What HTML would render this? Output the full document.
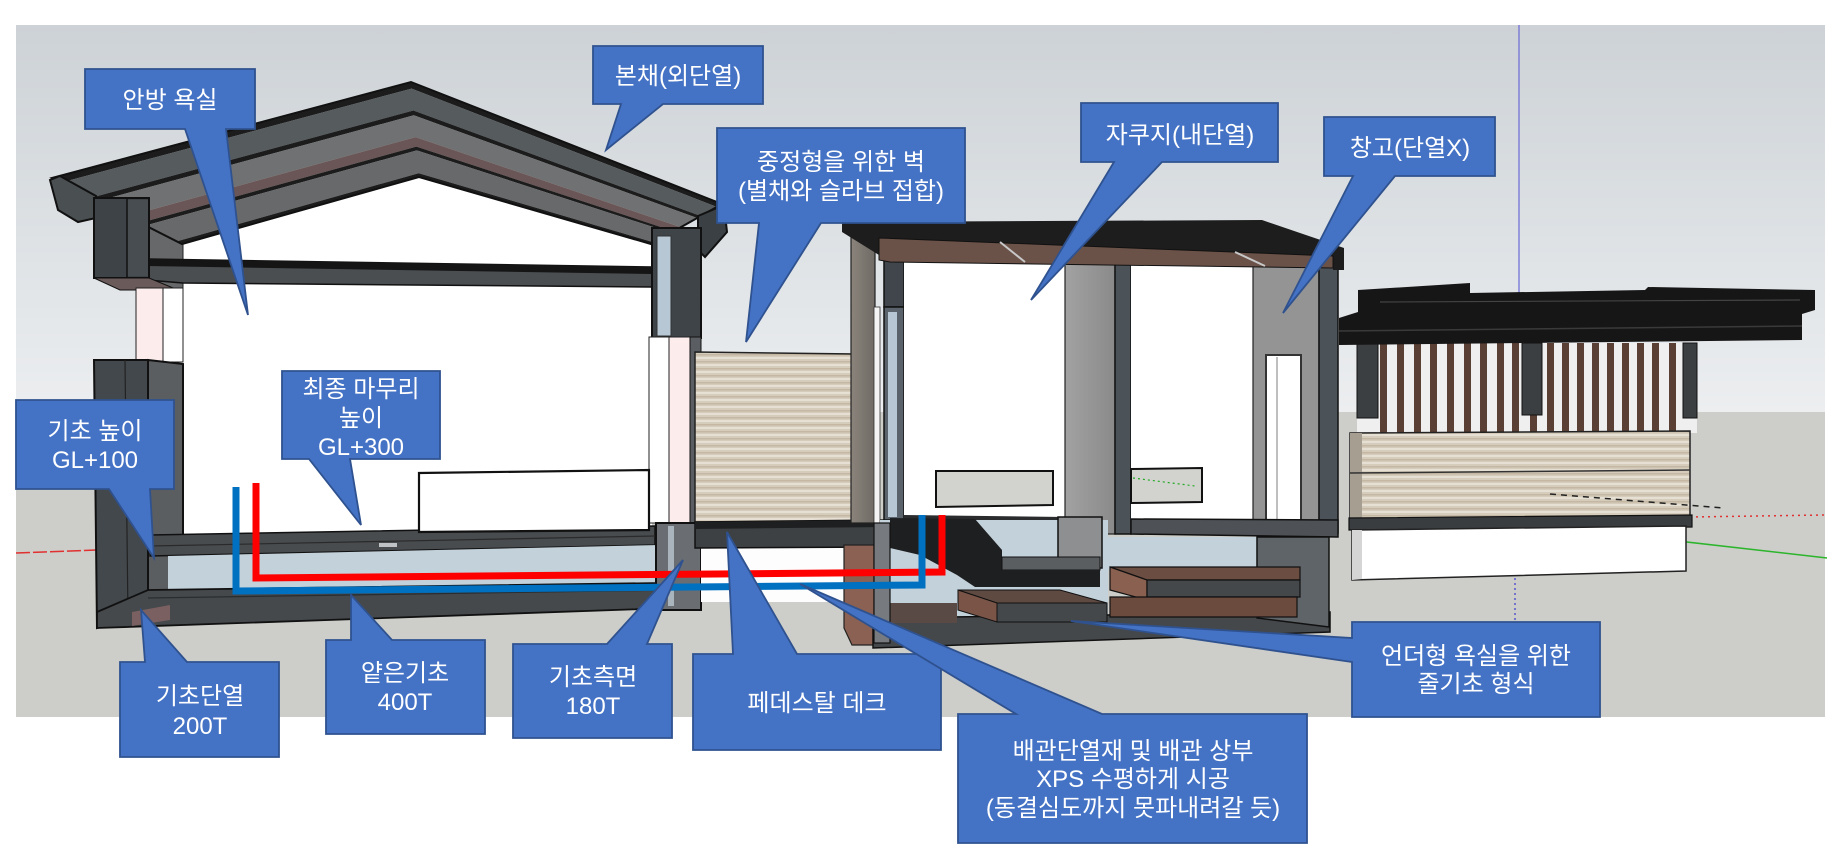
<!DOCTYPE html>
<html><head><meta charset="utf-8">
<style>
html,body{margin:0;padding:0;background:#fff;}
svg{display:block;}
text{font-family:"Liberation Sans","Noto Sans CJK KR",sans-serif;font-size:24px;fill:#fff;text-anchor:middle;}
</style></head><body>
<svg width="1833" height="850" viewBox="0 0 1833 850" xmlns="http://www.w3.org/2000/svg">
<defs>
<linearGradient id="sky" x1="0" y1="0" x2="0" y2="1">
 <stop offset="0" stop-color="#cdd2d6"/>
 <stop offset="0.6" stop-color="#dfe3e6"/>
 <stop offset="1" stop-color="#eceef0"/>
</linearGradient>
<linearGradient id="wallw" x1="0" y1="0" x2="1" y2="0">
 <stop offset="0" stop-color="#8a847c"/><stop offset="1" stop-color="#6f6a64"/>
</linearGradient>
<linearGradient id="part" x1="0" y1="0" x2="1" y2="0">
 <stop offset="0" stop-color="#a2a2a2"/><stop offset="1" stop-color="#8a8a8a"/>
</linearGradient>
<pattern id="wood" width="40" height="7" patternUnits="userSpaceOnUse">
 <rect width="40" height="7" fill="#d6ccbb"/>
 <rect y="0" width="40" height="2" fill="#e6dfd3"/>
 <rect y="4" width="40" height="1.5" fill="#c4b8a4"/>
</pattern>
</defs>

<!-- background -->
<rect x="16" y="25" width="1809" height="388" fill="url(#sky)"/>
<rect x="16" y="412" width="1809" height="305" fill="#cdcdc9"/>

<!-- axis lines -->
<line x1="1519" y1="25" x2="1519" y2="293" stroke="#6a6ad6" stroke-width="1.2"/>
<line x1="16" y1="553" x2="96" y2="550" stroke="#e03030" stroke-width="1.5" stroke-dasharray="14,3"/>
<line x1="1690" y1="517" x2="1825" y2="515" stroke="#e03030" stroke-width="1.5" stroke-dasharray="2,4"/>
<line x1="1555" y1="527" x2="1827" y2="558" stroke="#2bb52b" stroke-width="1.5"/>
<line x1="1515" y1="578" x2="1515" y2="620" stroke="#3a3ad0" stroke-width="1.2" stroke-dasharray="2,3"/>

<!-- ===== LEFT HOUSE ===== -->
<polygon points="147,250 419,177 652,244 652,530 150,535" fill="#fff"/>
<polygon points="148,226 183,244 183,292 148,282" fill="#666869" stroke="#222" stroke-width="1"/>

<!-- roof bands -->
<polygon points="52,178 411,82 722,204 717,207 411.6,88.6 61,182.6" fill="#1c1c1c"/>
<polygon points="61,182.6 411.6,88.6 717,207 700.7,216 413.4,110.5 91,197.8" fill="#565b5e"/>
<polygon points="91,197.8 413.4,110.5 700.7,216 697.2,218 413.8,115.3 97.5,201.1" fill="#1c1c1c"/>
<polygon points="97.5,201.1 413.8,115.3 697.2,218 680.8,227.2 415.6,137.1 127.4,216.3" fill="#707172"/>
<polygon points="127.4,216.3 415.6,137.1 680.8,227.2 673.7,231.2 416.4,146.6 140.4,222.9" fill="#6a5656"/>
<polygon points="140.4,222.9 416.4,146.6 673.7,231.2 670.9,232.8 416.8,150.4 145.6,225.5" fill="#1c1c1c"/>
<polygon points="145.6,225.5 416.8,150.4 670.9,232.8 653.8,242.4 418.7,173.2 176.8,241.4" fill="#68696a"/>
<polygon points="176.8,241.4 418.7,173.2 653.8,242.4 651,244 419,177 182,244" fill="#1c1c1c"/>
<polygon points="52,178 411,82 722,204 651,244 419,177 182,244" fill="none" stroke="#111" stroke-width="2"/>
<!-- roof right cap -->
<polygon points="698,216 724,205 727,232 705,257 698,250" fill="#3b4044" stroke="#111" stroke-width="2"/>
<!-- gutter left -->
<polygon points="50,180 60,176 96,196 96,218 78,222 58,210" fill="#4a4f52" stroke="#111" stroke-width="2"/>

<!-- ceiling beam -->
<polygon points="147,259 652,267 652,287 183,283 147,280" fill="#4a4e51" stroke="#111" stroke-width="1.5"/>
<polygon points="147,259 652,267 652,274 147,266" fill="#151515"/>

<!-- left wall -->
<rect x="94" y="198" width="55" height="80" fill="#3d4347" stroke="#111" stroke-width="2"/>
<rect x="127" y="200" width="21" height="76" fill="#474d51"/>
<line x1="127" y1="198" x2="127" y2="278" stroke="#111" stroke-width="1.5"/>
<polygon points="94,278 149,278 178,290 120,290" fill="#6b5a5a" stroke="#111" stroke-width="1"/>
<rect x="136" y="288" width="27" height="74" fill="#fcecec" stroke="#222" stroke-width="1"/>
<rect x="163" y="288" width="20" height="74" fill="#fff" stroke="#222" stroke-width="1"/>
<polygon points="94,360 148,360 148,612 97,628" fill="#43484c" stroke="#111" stroke-width="2"/>
<polygon points="148,360 183,364 183,590 148,612" fill="#5b5e61" stroke="#111" stroke-width="2"/>
<line x1="125" y1="360" x2="128" y2="618" stroke="#222" stroke-width="1.2"/>

<!-- floor slab, xps, foundation -->
<polygon points="150,535 655,526 655,545 150,556" fill="#484c4f" stroke="#111" stroke-width="1.5"/>
<line x1="150" y1="546" x2="655" y2="536" stroke="#2a2a2a" stroke-width="1.2"/>
<rect x="379" y="543" width="18" height="4" fill="#bfc3c6"/>
<polygon points="168,556 660,545 660,583 168,590" fill="#c3d1da"/>
<polygon points="148,590 660,583 701,581 701,607 97,628 97,612" fill="#45494c" stroke="#111" stroke-width="1.8"/>
<line x1="148" y1="598" x2="680" y2="590" stroke="#2a2d2f" stroke-width="1.2"/>
<polygon points="132,612 170,605 170,620 132,626" fill="#7a6060"/>

<!-- right wall of left house -->
<rect x="652" y="228" width="49" height="110" fill="#3e4448" stroke="#111" stroke-width="2"/>
<rect x="657" y="236" width="14" height="100" fill="#b7c8d4" stroke="#333" stroke-width="1"/>
<rect x="649" y="337" width="20" height="186" fill="#fff" stroke="#222" stroke-width="1"/>
<rect x="669" y="337" width="21" height="186" fill="#fcecec" stroke="#222" stroke-width="1"/>
<rect x="690" y="337" width="11" height="186" fill="#5a5e62" stroke="#111" stroke-width="1"/>
<rect x="656" y="523" width="45" height="87" fill="#6a6e72" stroke="#111" stroke-width="2"/>
<rect x="668" y="526" width="6" height="80" fill="#aab4bc"/>

<!-- white box -->
<polygon points="419,473 649,470 649,530 419,532" fill="#fff" stroke="#111" stroke-width="2.2"/>

<!-- ===== MIDDLE (pedestal deck) ===== -->
<polygon points="695,352 855,354 855,522 695,522" fill="url(#wood)" stroke="#222" stroke-width="1.5"/>
<rect x="701" y="547" width="143" height="55" fill="#fdfdfd"/>
<polygon points="695,522 888,520 888,547 695,548" fill="#3d4144" stroke="#111" stroke-width="1.5"/>
<polygon points="695,522 888,520 888,527 695,529" fill="#1e1f20"/>
<polygon points="844,545 874,545 874,645 852,645 844,628" fill="#8a6152" stroke="#222" stroke-width="1.2"/>

<!-- ===== RIGHT BUILDING (자쿠지) ===== -->
<rect x="851" y="230" width="24" height="293" fill="url(#wallw)" stroke="#222" stroke-width="1.2"/>
<rect x="874" y="307" width="6" height="216" fill="#f4f4f4" stroke="#333" stroke-width="0.8"/>
<rect x="884" y="257" width="20" height="50" fill="#40464b" stroke="#111" stroke-width="1.5"/>
<rect x="884" y="307" width="20" height="213" fill="#5a636b" stroke="#111" stroke-width="1.5"/>
<rect x="888" y="312" width="9" height="205" fill="#b7c8d4"/>
<rect x="904" y="258" width="161" height="260" fill="#fff"/>
<rect x="1065" y="262" width="50" height="272" fill="url(#part)" stroke="#222" stroke-width="1.2"/>
<rect x="1115" y="262" width="16" height="272" fill="#4b5258" stroke="#111" stroke-width="1.5"/>
<rect x="1131" y="262" width="122" height="262" fill="#fff"/>
<rect x="1253" y="262" width="66" height="272" fill="#949494" stroke="#222" stroke-width="1.2"/>
<rect x="1266" y="355" width="35" height="170" fill="#fff" stroke="#333" stroke-width="2"/>
<line x1="1277" y1="357" x2="1277" y2="523" stroke="#aaa" stroke-width="1.5"/>
<rect x="1319" y="250" width="19" height="283" fill="#4b5258" stroke="#111" stroke-width="1.5"/>

<!-- roof -->
<polygon points="842,222 1262,220 1344,248 1344,270 1333,270 1333,258 879,238 879,255 842,232" fill="#1d1d1d"/>
<polygon points="879,238 1333,256 1333,268 890,262 879,260" fill="#6b5248" stroke="#111" stroke-width="1"/>
<line x1="1000" y1="242" x2="1025" y2="262" stroke="#c8c8c8" stroke-width="2"/>
<line x1="1235" y1="252" x2="1265" y2="266" stroke="#c8c8c8" stroke-width="2"/>

<!-- boxes -->
<polygon points="936,471 1053,471 1053,505 936,507" fill="#d2d2ce" stroke="#111" stroke-width="2"/>
<polygon points="1131,469 1202,468 1202,502 1131,503" fill="#d2d2ce" stroke="#111" stroke-width="2"/>
<line x1="1133" y1="478" x2="1195" y2="486" stroke="#2a2" stroke-width="1.2" stroke-dasharray="2,3"/>

<!-- floors -->
<polygon points="904,515 1065,517 1065,523 904,521" fill="#2a2c2e"/>
<polygon points="1131,519 1338,520 1338,537 1131,534" fill="#4e5256" stroke="#111" stroke-width="1.5"/>

<!-- lower right building -->
<rect x="880" y="520" width="228" height="100" fill="#c3d1da"/>
<polygon points="873,618 1330,612 1330,632 873,648" fill="#45484b" stroke="#111" stroke-width="1.5"/>
<polygon points="890,603 957,603 957,623 890,623" fill="#5a4a45"/>
<rect x="1058" y="517" width="44" height="51" fill="#8d8f91" stroke="#111" stroke-width="1.5"/>
<polygon points="890,518 975,519 1002,550 1002,587 975,587 957,575 920,555 890,548" fill="#1e1f20"/>
<polygon points="1002,557 1100,557 1100,570 1002,570" fill="#5a5e61" stroke="#111" stroke-width="1"/>
<polygon points="1002,570 1100,570 1100,587 1002,587" fill="#1e1f20"/>
<polygon points="958,590 1060,590 1107,603 997,603" fill="#5f4a42" stroke="#111" stroke-width="1"/>
<polygon points="958,590 997,603 997,622 958,610" fill="#7a5547" stroke="#111" stroke-width="1"/>
<polygon points="997,603 1107,603 1107,622 997,622" fill="#44484b" stroke="#111" stroke-width="1"/>
<rect x="1108" y="537" width="150" height="33" fill="#c3d1da"/>
<polygon points="1257,537 1329,537 1329,627 1257,618" fill="#5f6468" stroke="#111" stroke-width="1.5"/>
<polygon points="1110,567 1300,567 1300,580 1147,580" fill="#6b4d42" stroke="#111" stroke-width="1.2"/>
<polygon points="1110,567 1147,580 1147,600 1110,590" fill="#8a6050" stroke="#111" stroke-width="1.2"/>
<polygon points="1147,580 1300,580 1300,597 1147,597" fill="#44484b" stroke="#111" stroke-width="1.2"/>
<polygon points="1110,597 1297,597 1297,617 1110,617" fill="#6c4b3f" stroke="#111" stroke-width="1.2"/>
<rect x="874" y="523" width="16" height="120" fill="#777b7f" stroke="#111" stroke-width="1.2"/>

<!-- ===== PERGOLA / STORAGE ===== -->
<rect x="1357" y="343" width="340" height="90" fill="#efefef"/>
<g fill="#5a3f34">
<rect x="1380" y="343" width="7" height="90"/><rect x="1397" y="343" width="7" height="90"/>
<rect x="1414" y="343" width="7" height="90"/><rect x="1430" y="343" width="7" height="90"/>
<rect x="1447" y="343" width="7" height="90"/><rect x="1464" y="343" width="7" height="90"/>
<rect x="1480" y="343" width="7" height="90"/><rect x="1497" y="343" width="7" height="90"/>
<rect x="1512" y="343" width="7" height="90"/><rect x="1530" y="343" width="7" height="90"/>
<rect x="1547" y="343" width="7" height="90"/><rect x="1562" y="343" width="7" height="90"/>
<rect x="1577" y="343" width="7" height="90"/><rect x="1592" y="343" width="7" height="90"/>
<rect x="1607" y="343" width="7" height="90"/><rect x="1622" y="343" width="7" height="90"/>
<rect x="1637" y="343" width="7" height="90"/><rect x="1652" y="343" width="7" height="90"/>
<rect x="1669" y="343" width="7" height="90"/>
</g>
<rect x="1357" y="343" width="21" height="75" fill="#3c3f42" stroke="#111" stroke-width="1"/>
<rect x="1522" y="343" width="20" height="72" fill="#3c3f42" stroke="#111" stroke-width="1"/>
<rect x="1683" y="343" width="14" height="75" fill="#3c3f42" stroke="#111" stroke-width="1"/>
<polygon points="1339,318 1358,312 1358,290 1470,283 1470,293 1645,290 1648,287 1815,290 1815,310 1802,314 1802,340 1339,345" fill="#161616"/>
<line x1="1339" y1="331" x2="1802" y2="326" stroke="#3a3a3a" stroke-width="1.5"/>
<line x1="1380" y1="302" x2="1800" y2="300" stroke="#444" stroke-width="1.2"/>

<polygon points="1350,433 1690,431 1690,518 1350,520" fill="url(#wood)" stroke="#222" stroke-width="1.5"/>
<rect x="1350" y="433" width="12" height="87" fill="#a69e91"/>
<line x1="1350" y1="473" x2="1690" y2="470" stroke="#333" stroke-width="1.5"/>
<line x1="1550" y1="494" x2="1723" y2="508" stroke="#222" stroke-width="1.5" stroke-dasharray="6,5"/>
<polygon points="1349,518 1692,515 1692,527 1349,530" fill="#3a3d40" stroke="#111" stroke-width="1.2"/>
<polygon points="1352,530 1686,526 1686,571 1352,580" fill="#fff" stroke="#222" stroke-width="1.5"/>
<polygon points="1352,530 1362,530 1362,579 1352,580" fill="#d5d5d5"/>

<!-- pipes -->
<polyline points="256,483 256,578 942,572 942,515" fill="none" stroke="#ff0000" stroke-width="7"/>
<polyline points="236,487 236,591 922,585 922,515" fill="none" stroke="#0070c0" stroke-width="7"/>

<!-- ===== CALLOUTS ===== -->
<g fill="#4472c4" stroke="#2f528f" stroke-width="1.8" stroke-linejoin="miter">
<path d="M85,69 H255 V129 H226 L248,315 L185,129 H85 Z"/>
<path d="M593,46 H763 V104 H663 L606,150 L621,104 H593 Z"/>
<path d="M717,128 H965 V223 H821 L746,342 L759,223 H717 Z"/>
<path d="M1081,103 H1278 V162 H1162 L1031,300 L1114,162 H1081 Z"/>
<path d="M1324,117 H1495 V176 H1395 L1283,313 L1353,176 H1324 Z"/>
<path d="M282,371 H440 V459 H350 L361,525 L309,459 H282 Z"/>
<path d="M16,400 H174 V489 H150 L154,558 L109,489 H16 Z"/>
<path d="M120,662 H145 L141,610 L187,662 H279 V757 H120 Z"/>
<path d="M326,640 H351 L351,595 L392,640 H485 V734 H326 Z"/>
<path d="M513,644 H607 L683,560 L647,644 H672 V738 H513 Z"/>
<path d="M693,654 H733 L727,532 L797,654 H941 V750 H693 Z"/>
<path d="M958,714 H1016 L800,584 L1102,714 H1307 V843 H958 Z"/>
<path d="M1352,622 H1600 V717 H1352 V662 L1071,621 L1352,638 Z"/>
</g>

<text x="170" y="108">안방 욕실</text>
<text x="678" y="84">본채(외단열)</text>
<text x="841" y="170">중정형을 위한 벽</text>
<text x="841" y="199">(별채와 슬라브 접합)</text>
<text x="1180" y="143">자쿠지(내단열)</text>
<text x="1410" y="156">창고(단열X)</text>
<text x="361" y="397">최종 마무리</text>
<text x="361" y="426">높이</text>
<text x="361" y="455">GL+300</text>
<text x="95" y="439">기초 높이</text>
<text x="95" y="468">GL+100</text>
<text x="200" y="704">기초단열</text>
<text x="200" y="734">200T</text>
<text x="405" y="681">얕은기초</text>
<text x="405" y="710">400T</text>
<text x="593" y="685">기초측면</text>
<text x="593" y="714">180T</text>
<text x="817" y="711">페데스탈 데크</text>
<text x="1133" y="759">배관단열재 및 배관 상부</text>
<text x="1133" y="787">XPS 수평하게 시공</text>
<text x="1133" y="816">(동결심도까지 못파내려갈 듯)</text>
<text x="1476" y="664">언더형 욕실을 위한</text>
<text x="1476" y="692">줄기초 형식</text>
</svg>
</body></html>
